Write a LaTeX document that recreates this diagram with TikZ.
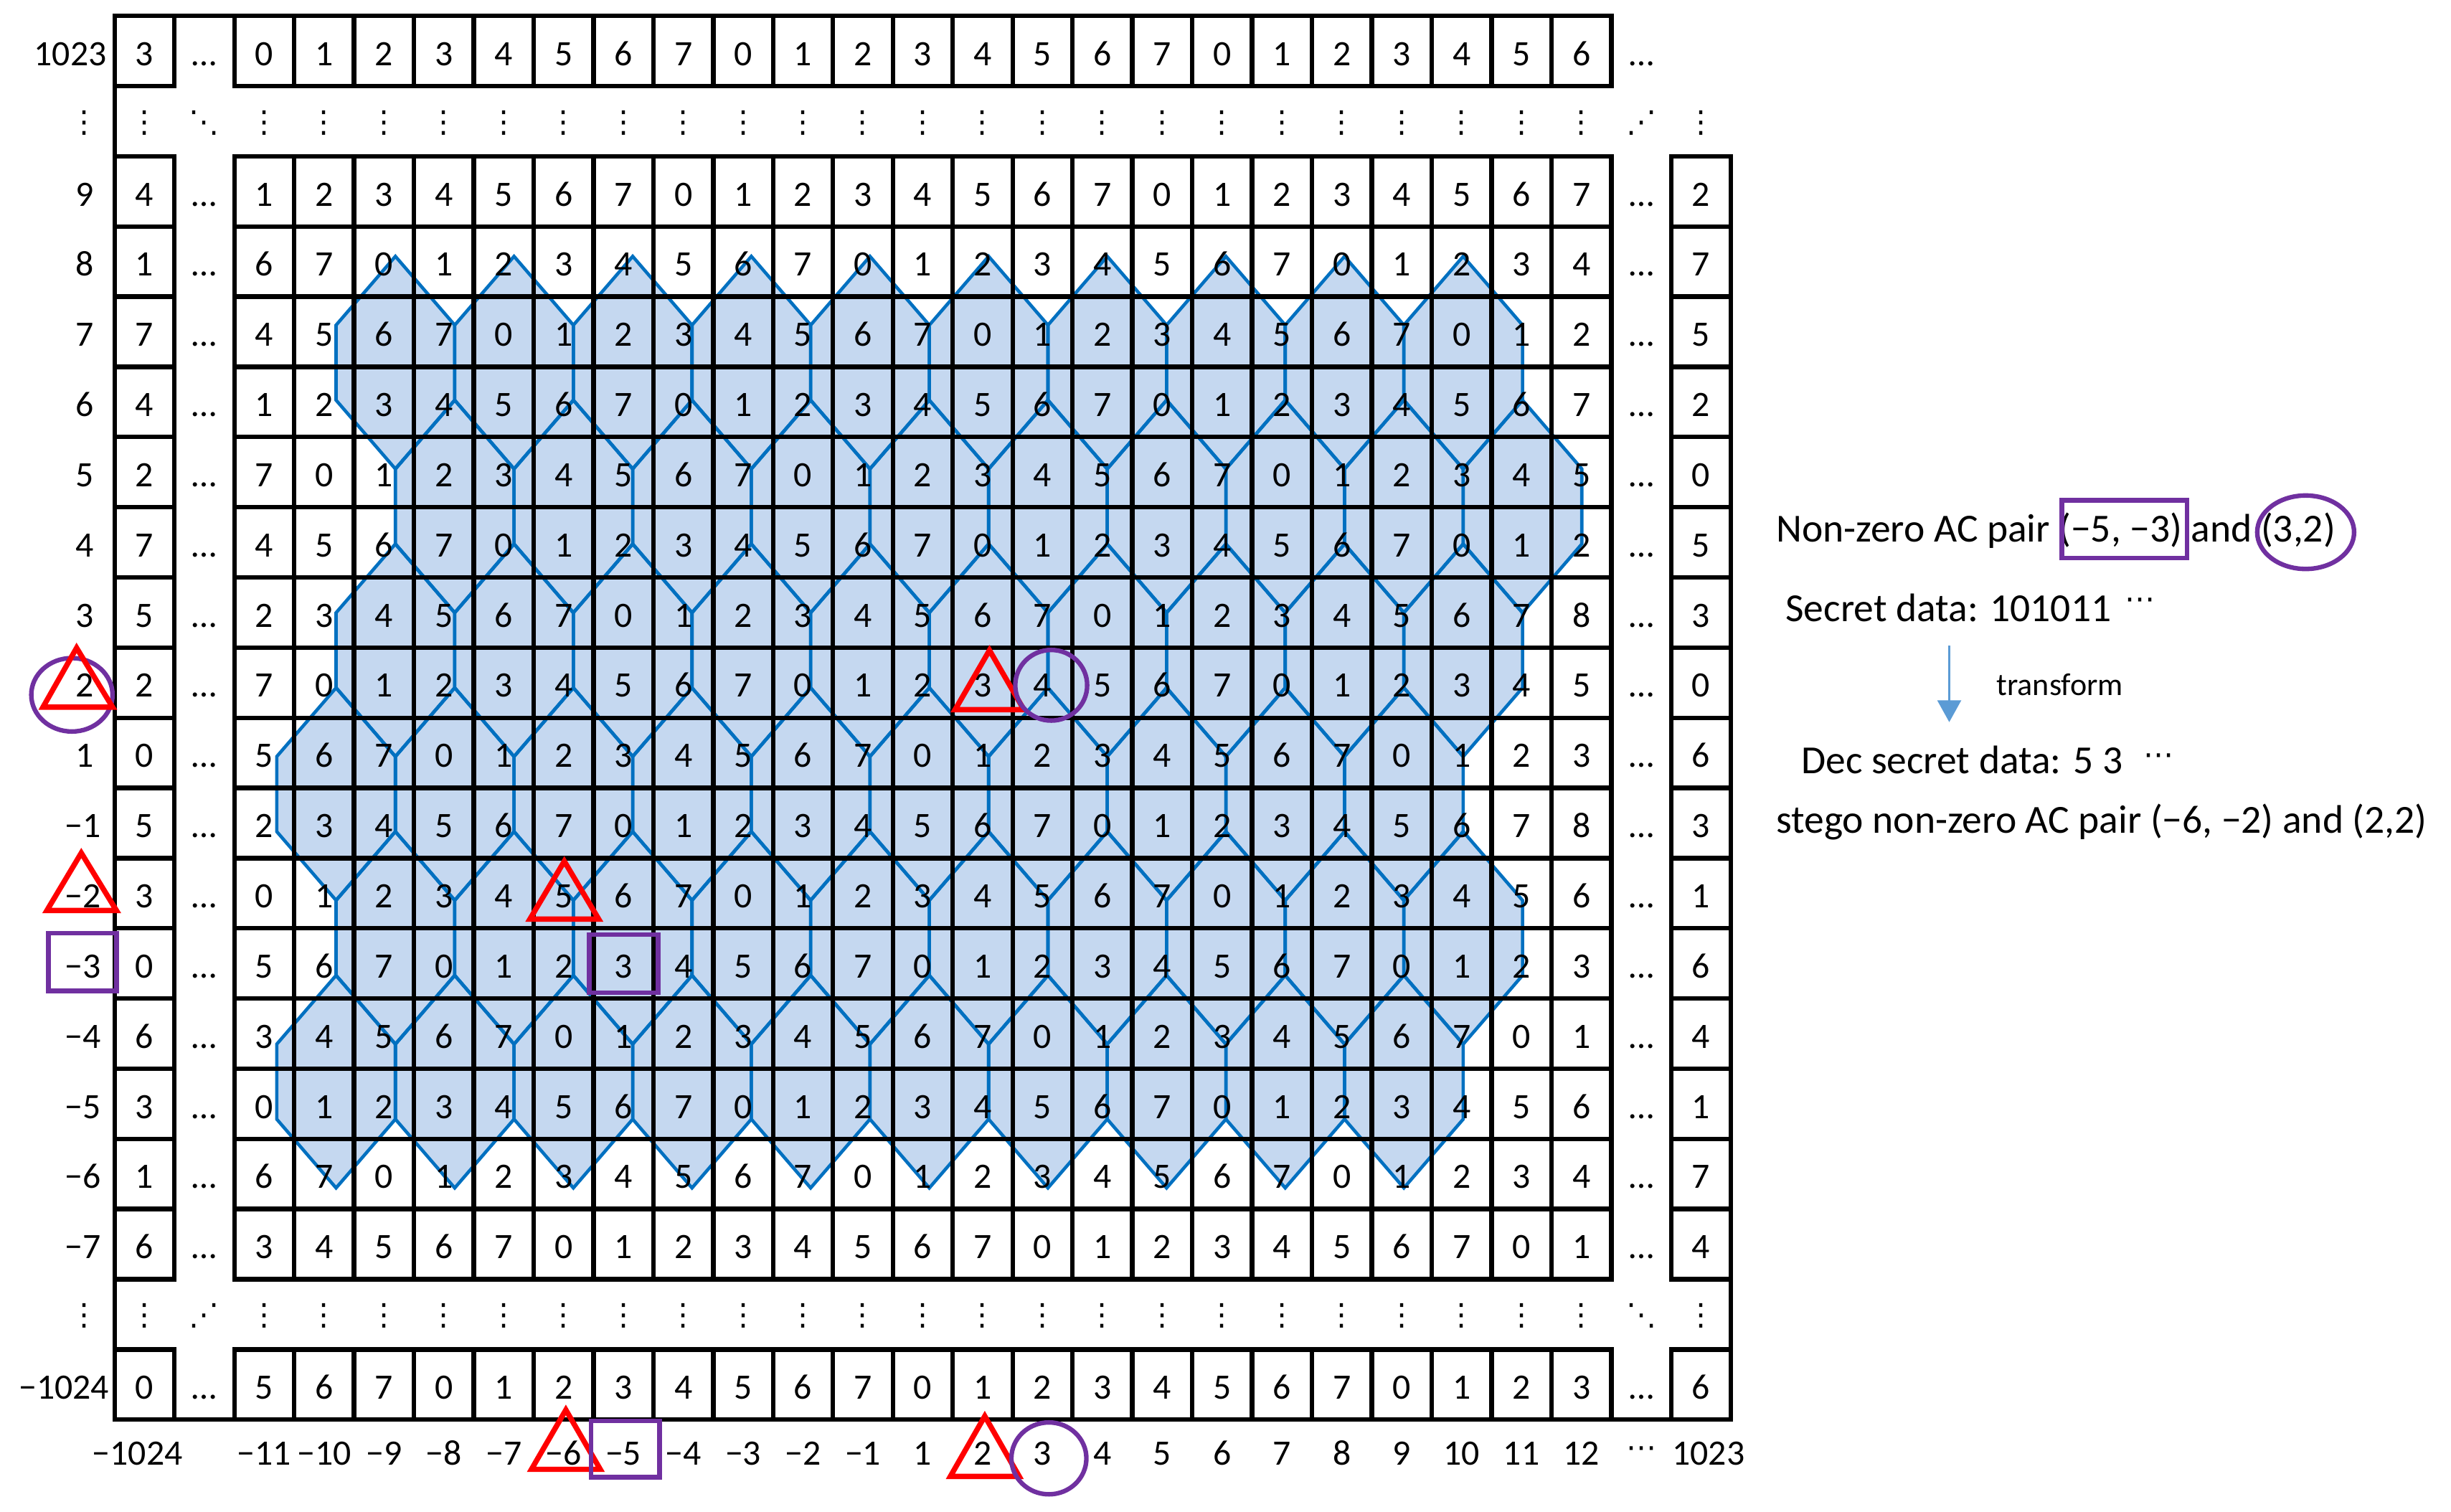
\documentclass[tikz,border=0pt]{standalone}
\usepackage{fontspec}
\setmainfont{Carlito}
\newfontfamily\dejavu{DejaVu Sans}
\usetikzlibrary{arrows.meta}
\definecolor{hexfill}{RGB}{197,216,240}
\definecolor{hexline}{RGB}{0,112,192}
\definecolor{pur}{RGB}{112,48,160}
\definecolor{arrblue}{RGB}{91,155,213}
\begin{document}
\begin{tikzpicture}[x=0.02cm,y=-0.02cm,
  cell/.style={inner sep=0pt, text height=0.37cm, text depth=0pt, font=\fontsize{13}{15}\selectfont},
  dts/.style={inner sep=0pt, font=\dejavu\fontsize{11}{13}\selectfont},
  gridline/.style={line width=0.058cm, black, line cap=rect},
  hexf/.style={fill=hexfill, draw=none},
  hexd/.style={draw=hexline, line width=0.042cm, line join=miter},
  redtri/.style={draw=red, line width=0.068cm, line join=miter},
  purp/.style={draw=pur, line width=0.058cm},
  rtext/.style={inner sep=0pt, anchor=base west, font=\fontsize{14.5}{17}\selectfont}
]
\path[use as bounding box] (0,0) rectangle (1568,967);

% ---------- hexagon fills ----------
\foreach \i/\ja/\jb/\off in {0/0/9/252.95,1/1/10/215,2/0/9/252.95,3/0/9/215,4/0/9/252.95,5/0/9/215}{
  \foreach \j in {\ja,...,\jb}{
    \fill[hexf] ({\off+75.9*\j},{164+92*\i}) -- ++(37.95,44) -- ++(0,48) -- ++(-37.95,44) -- ++(-37.95,-44) -- ++(0,-48) -- cycle;
  }
}
% ---------- hexagon outlines ----------
\foreach \i/\ja/\jb/\off in {0/0/9/252.95,1/1/10/215,2/0/9/252.95,3/0/9/215,4/0/9/252.95,5/0/9/215}{
  \foreach \j in {\ja,...,\jb}{
    \draw[hexd] ({\off+75.9*\j},{164+92*\i}) -- ++(37.95,44) -- ++(0,48) -- ++(-37.95,44) -- ++(-37.95,-44) -- ++(0,-48) -- cycle;
  }
}

% ---------- grid lines ----------
\draw[gridline] (73.3,10.2) -- ({73.3+38.3*25},10.2);
\foreach \r in {1,...,19}{
  \draw[gridline] (73.3,{10.2+44.9*\r}) -- ({73.3+38.3},{10.2+44.9*\r});
  \draw[gridline] ({73.3+38.3*2},{10.2+44.9*\r}) -- ({73.3+38.3*25},{10.2+44.9*\r});
}
\foreach \r in {2,...,19}{
  \draw[gridline] ({73.3+38.3*26},{10.2+44.9*\r}) -- ({73.3+38.3*27},{10.2+44.9*\r});
}
\draw[gridline] (73.3,{10.2+44.9*20}) -- ({73.3+38.3*27},{10.2+44.9*20});
\draw[gridline] (73.3,10.2) -- (73.3,{10.2+44.9*20});
\foreach \k in {1,...,25}{
  \draw[gridline] ({73.3+38.3*\k},10.2) -- ({73.3+38.3*\k},{10.2+44.9});
  \draw[gridline] ({73.3+38.3*\k},{10.2+44.9*2}) -- ({73.3+38.3*\k},{10.2+44.9*18});
  \draw[gridline] ({73.3+38.3*\k},{10.2+44.9*19}) -- ({73.3+38.3*\k},{10.2+44.9*20});
}
\draw[gridline] ({73.3+38.3*26},{10.2+44.9*2}) -- ({73.3+38.3*26},{10.2+44.9*18});
\draw[gridline] ({73.3+38.3*26},{10.2+44.9*19}) -- ({73.3+38.3*26},{10.2+44.9*20});
\draw[gridline] ({73.3+38.3*27},{10.2+44.9*2}) -- ({73.3+38.3*27},{10.2+44.9*20});

% ---------- top row ----------
\node[cell] (lab-0) at (45,32.65) {1023};
\node[cell] (L-0) at (92.45,32.65) {3};
\node[cell] (E1-0) at (130.75,32.65) {…};
\foreach[count=\kk from 2] \v in {0,1,2,3,4,5,6,7,0,1,2,3,4,5,6,7,0,1,2,3,4,5,6}{
  \node[cell] (v-0-\kk) at ({92.45+38.3*\kk},32.65) {\v};
}
\node[cell] (E25-0) at (1050,32.65) {…};

% ---------- dots rows ----------
\foreach \r/\da/\db in {1/⋱/⋰,18/⋰/⋱}{
  \node[dts] (lab-\r) at (54,{33.65+44.9*\r}) {⋮};
  \node[dts] (L-\r) at (92.45,{33.65+44.9*\r}) {⋮};
  \node[dts] (E1-\r) at (130.75,{33.65+44.9*\r}) {\da};
  \foreach \kk in {2,...,24}{
    \node[dts] (v-\r-\kk) at ({92.45+38.3*\kk},{33.65+44.9*\r}) {⋮};
  }
  \node[dts] (E25-\r) at (1050,{33.65+44.9*\r}) {\db};
  \node[dts] (R-\r) at (1088.25,{33.65+44.9*\r}) {⋮};
}

% ---------- numeric rows ----------
\foreach \r/\lx/\lab/\lv/\rv/\vals in {
 2/54/9/4/2/{1,2,3,4,5,6,7,0,1,2,3,4,5,6,7,0,1,2,3,4,5,6,7},
 3/54/8/1/7/{6,7,0,1,2,3,4,5,6,7,0,1,2,3,4,5,6,7,0,1,2,3,4},
 4/54/7/7/5/{4,5,6,7,0,1,2,3,4,5,6,7,0,1,2,3,4,5,6,7,0,1,2},
 5/54/6/4/2/{1,2,3,4,5,6,7,0,1,2,3,4,5,6,7,0,1,2,3,4,5,6,7},
 6/54/5/2/0/{7,0,1,2,3,4,5,6,7,0,1,2,3,4,5,6,7,0,1,2,3,4,5},
 7/54/4/7/5/{4,5,6,7,0,1,2,3,4,5,6,7,0,1,2,3,4,5,6,7,0,1,2},
 8/54/3/5/3/{2,3,4,5,6,7,0,1,2,3,4,5,6,7,0,1,2,3,4,5,6,7,8},
 9/54/2/2/0/{7,0,1,2,3,4,5,6,7,0,1,2,3,4,5,6,7,0,1,2,3,4,5},
 10/54/1/0/6/{5,6,7,0,1,2,3,4,5,6,7,0,1,2,3,4,5,6,7,0,1,2,3},
 11/53/−1/5/3/{2,3,4,5,6,7,0,1,2,3,4,5,6,7,0,1,2,3,4,5,6,7,8},
 12/53/−2/3/1/{0,1,2,3,4,5,6,7,0,1,2,3,4,5,6,7,0,1,2,3,4,5,6},
 13/53/−3/0/6/{5,6,7,0,1,2,3,4,5,6,7,0,1,2,3,4,5,6,7,0,1,2,3},
 14/53/−4/6/4/{3,4,5,6,7,0,1,2,3,4,5,6,7,0,1,2,3,4,5,6,7,0,1},
 15/53/−5/3/1/{0,1,2,3,4,5,6,7,0,1,2,3,4,5,6,7,0,1,2,3,4,5,6},
 16/53/−6/1/7/{6,7,0,1,2,3,4,5,6,7,0,1,2,3,4,5,6,7,0,1,2,3,4},
 17/53/−7/6/4/{3,4,5,6,7,0,1,2,3,4,5,6,7,0,1,2,3,4,5,6,7,0,1},
 19/41/−1024/0/6/{5,6,7,0,1,2,3,4,5,6,7,0,1,2,3,4,5,6,7,0,1,2,3}}{
  \node[cell] (lab-\r) at (\lx,{32.65+44.9*\r}) {\lab};
  \node[cell] (L-\r) at (92.45,{32.65+44.9*\r}) {\lv};
  \node[cell] (E1-\r) at (130.75,{32.65+44.9*\r}) {…};
  \foreach[count=\kk from 2] \v in \vals{
    \node[cell] (v-\r-\kk) at ({92.45+38.3*\kk},{32.65+44.9*\r}) {\v};
  }
  \node[cell] (E25-\r) at (1050,{32.65+44.9*\r}) {…};
  \node[cell] (R-\r) at (1088.25,{32.65+44.9*\r}) {\rv};
}

% ---------- bottom axis labels ----------
\node[cell] (bx-0) at (88,928) {−1024};
\foreach[count=\kk from 2] \v in {−11,−10,−9,−8,−7,−6,−5,−4,−3,−2,−1,1,2,3,4,5,6,7,8,9,10,11,12}{
  \node[cell] (bx-\kk) at ({92.45+38.3*\kk},928) {\v};
}
\node[dts] (bx-25) at (1050,929) {⋯};
\node[cell] (bx-26) at (1093,928) {1023};

% ---------- annotations on the grid ----------
\draw[purp] (46,444.5) ellipse [x radius=0.52cm, y radius=0.47cm];
\draw[redtri] (49,414.5) -- (72,452.4) -- (27.5,452.4) -- cycle;
\draw[redtri] (52,545.7) -- (74.5,582.5) -- (30,582.5) -- cycle;
\draw[purp] (31,597) rectangle (74.5,634);
\draw[redtri] (361,551) -- (383,588) -- (339,588) -- cycle;
\draw[purp] (377,598) rectangle (421,635);
\draw[redtri] (633,416) -- (655,454) -- (611,454) -- cycle;
\draw[purp] (672.5,438.4) ellipse [x radius=0.46cm, y radius=0.452cm];
\draw[redtri] (362,902) -- (384,940) -- (340,940) -- cycle;
\draw[purp] (378,909) rectangle (422,945);
\draw[redtri] (630,906) -- (652,944.5) -- (608,944.5) -- cycle;
\draw[purp] (671,933) ellipse [x radius=0.48cm, y radius=0.46cm];

% ---------- right-hand text ----------
\node[rtext] (t1) at (1136,346.5) {Non-zero AC pair (−5, −3) and (3,2)};
\draw[purp] (1319,320) rectangle (1399,357);
\draw[purp] (1475,340.5) ellipse [x radius=0.62cm, y radius=0.47cm];
\node[rtext] (t2) at (1142,397.7) {Secret data: 101011};
\node[dts] (t2d) at (1369,386) {⋯};
\coordinate (a1) at (1247,413);
\coordinate (a2) at (1247,462);
\draw[arrblue, line width=0.036cm, -{Triangle[width=0.3cm,length=0.28cm]}] (a1) -- (a2);
\node[inner sep=0pt, anchor=base west, font=\fontsize{11.5}{14}\selectfont] (t3) at (1277,444.8) {transform};
\node[rtext] (t4) at (1152,495) {Dec secret data: 5 3};
\node[dts] (t4d) at (1381,486) {⋯};
\node[rtext] (t5) at (1136,533) {stego non-zero AC pair (−6, −2) and (2,2)};
\end{tikzpicture}
\end{document}
